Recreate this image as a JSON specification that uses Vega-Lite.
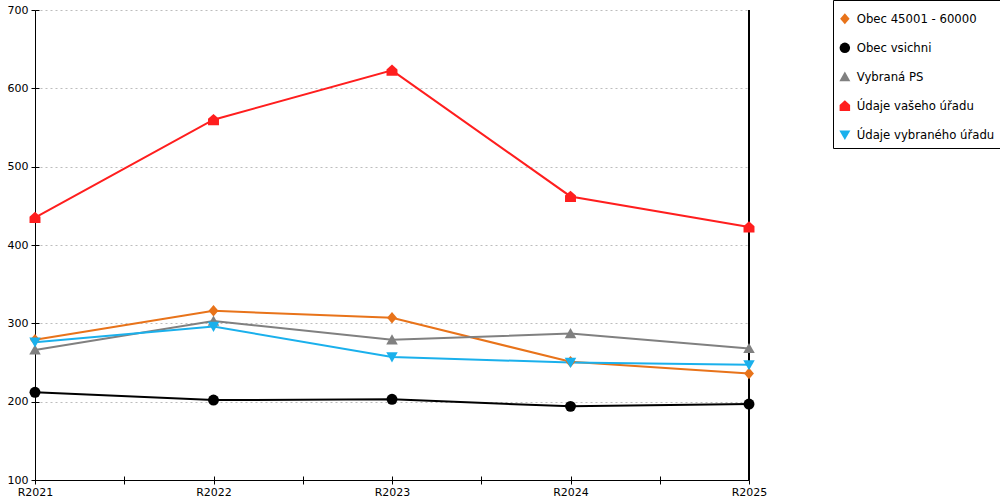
{
  "$schema": "https://vega.github.io/schema/vega-lite/v6.json",
  "autosize": {"type": "none"},
  "padding": {"left": 35, "top": 10, "right": 251, "bottom": 20},
  "width": 714,
  "height": 470,
  "data": {
    "values": [
      {"rok": 2021, "serie": "Obec 45001 - 60000", "hodnota": 279},
      {"rok": 2022, "serie": "Obec 45001 - 60000", "hodnota": 316},
      {"rok": 2023, "serie": "Obec 45001 - 60000", "hodnota": 307},
      {"rok": 2024, "serie": "Obec 45001 - 60000", "hodnota": 251},
      {"rok": 2025, "serie": "Obec 45001 - 60000", "hodnota": 236},
      {"rok": 2021, "serie": "Obec vsichni", "hodnota": 212},
      {"rok": 2022, "serie": "Obec vsichni", "hodnota": 202},
      {"rok": 2023, "serie": "Obec vsichni", "hodnota": 203},
      {"rok": 2024, "serie": "Obec vsichni", "hodnota": 194},
      {"rok": 2025, "serie": "Obec vsichni", "hodnota": 197},
      {"rok": 2021, "serie": "Vybraná PS", "hodnota": 266},
      {"rok": 2022, "serie": "Vybraná PS", "hodnota": 303},
      {"rok": 2023, "serie": "Vybraná PS", "hodnota": 279},
      {"rok": 2024, "serie": "Vybraná PS", "hodnota": 287},
      {"rok": 2025, "serie": "Vybraná PS", "hodnota": 268},
      {"rok": 2021, "serie": "Údaje vašeho úřadu", "hodnota": 435},
      {"rok": 2022, "serie": "Údaje vašeho úřadu", "hodnota": 560},
      {"rok": 2023, "serie": "Údaje vašeho úřadu", "hodnota": 623},
      {"rok": 2024, "serie": "Údaje vašeho úřadu", "hodnota": 462},
      {"rok": 2025, "serie": "Údaje vašeho úřadu", "hodnota": 423},
      {"rok": 2021, "serie": "Údaje vybraného úřadu", "hodnota": 276},
      {"rok": 2022, "serie": "Údaje vybraného úřadu", "hodnota": 296},
      {"rok": 2023, "serie": "Údaje vybraného úřadu", "hodnota": 257},
      {"rok": 2024, "serie": "Údaje vybraného úřadu", "hodnota": 250},
      {"rok": 2025, "serie": "Údaje vybraného úřadu", "hodnota": 247}
    ]
  },
  "layer": [
    {
      "mark": {"type": "rule", "color": "black", "strokeWidth": 1},
      "encoding": {
        "x": {"datum": 2025, "type": "quantitative", "axis": null}
      }
    },
    {
      "mark": {"type": "line", "strokeWidth": 2},
      "encoding": {
        "x": {
          "field": "rok",
          "type": "quantitative",
          "scale": {"domain": [2021, 2025], "nice": false, "zero": false},
          "axis": {
            "orient": "bottom",
            "values": [2021, 2021.5, 2022, 2022.5, 2023, 2023.5, 2024, 2024.5, 2025],
            "tickSize": -4,
            "labels": false,
            "domain": false,
            "grid": false,
            "title": null
          }
        },
        "y": {
          "field": "hodnota",
          "type": "quantitative",
          "scale": {"domain": [100, 700], "nice": false, "zero": false},
          "axis": {
            "orient": "left",
            "values": [100, 200, 300, 400, 500, 600, 700],
            "tickSize": -4,
            "labels": false,
            "domain": false,
            "grid": false,
            "title": null
          }
        },
        "color": {"field": "serie", "type": "nominal", "title": " "}
      }
    },
    {
      "mark": {"type": "point", "filled": true, "size": 120, "opacity": 1, "strokeWidth": 0},
      "encoding": {
        "x": {
          "field": "rok",
          "type": "quantitative",
          "axis": {
            "orient": "bottom",
            "values": [2021, 2021.5, 2022, 2022.5, 2023, 2023.5, 2024, 2024.5, 2025],
            "labelExpr": "datum.value % 1 == 0 ? 'R' + datum.value : ''",
            "tickSize": 4,
            "labelPadding": 2,
            "labelFlush": false,
            "labelOverlap": false,
            "grid": false,
            "title": null
          }
        },
        "y": {
          "field": "hodnota",
          "type": "quantitative",
          "axis": {
            "orient": "left",
            "values": [100, 200, 300, 400, 500, 600, 700],
            "tickSize": 4,
            "labelPadding": 3,
            "grid": true,
            "gridColor": "#BDBDBD",
            "gridDash": [2, 3],
            "gridWidth": 1,
            "title": null
          }
        },
        "color": {
          "field": "serie",
          "type": "nominal",
          "scale": {
            "domain": ["Obec 45001 - 60000", "Obec vsichni", "Vybraná PS", "Údaje vašeho úřadu", "Údaje vybraného úřadu"],
            "range": ["#E8731A", "#000000", "#808080", "#FF1E1E", "#1AB0EC"]
          },
          "title": " "
        },
        "shape": {
          "field": "serie",
          "type": "nominal",
          "scale": {
            "domain": ["Obec 45001 - 60000", "Obec vsichni", "Vybraná PS", "Údaje vašeho úřadu", "Údaje vybraného úřadu"],
            "range": [
              "M0,-1.05 L0.9,0 L0,1.05 L-0.9,0 Z",
              "circle",
              "M0,-1 L1.05,0.85 L-1.05,0.85 Z",
              "M-1,1 L-1,-0.15 L0,-1.05 L1,-0.15 L1,1 Z",
              "M-1.05,-0.85 L1.05,-0.85 L0,1 Z"
            ]
          },
          "title": " "
        }
      }
    }
  ],
  "resolve": {"axis": {"x": "independent", "y": "independent"}},
  "config": {
    "view": {"stroke": null},
    "axis": {
      "domainColor": "black",
      "domainWidth": 1,
      "tickColor": "black",
      "tickWidth": 1,
      "labelFont": "DejaVu Sans",
      "labelFontSize": 11,
      "labelColor": "black"
    },
    "legend": {
      "orient": "none",
      "legendX": 798,
      "legendY": -10,
      "strokeColor": "black",
      "fillColor": "white",
      "padding": 6,
      "titleFontSize": 5,
      "titlePadding": 2,
      "rowPadding": 16,
      "labelFont": "DejaVu Sans",
      "labelFontSize": 11.7,
      "labelColor": "black",
      "labelOffset": 6,
      "symbolSize": 110,
      "symbolStrokeWidth": 0,
      "labelLimit": 300
    }
  }
}
